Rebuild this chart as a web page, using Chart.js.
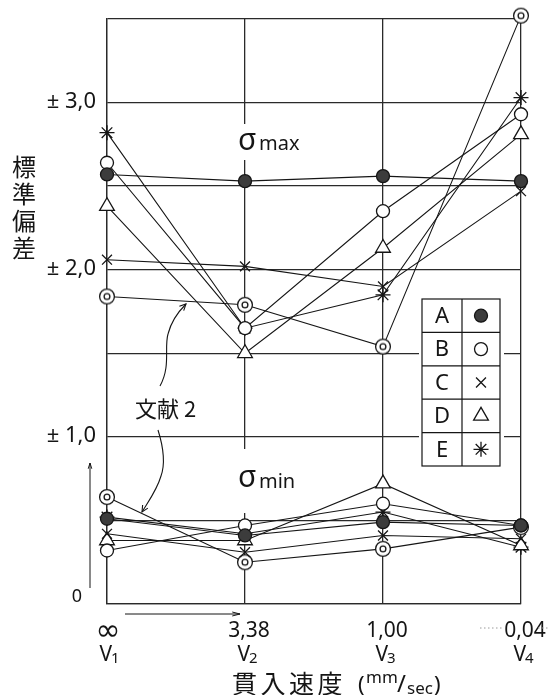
<!DOCTYPE html>
<html>
<head>
<meta charset="utf-8">
<script src="https://cdn.jsdelivr.net/npm/chart.js@4.4.1/dist/chart.umd.min.js"></script>
<style>
  html, body { margin: 0; padding: 0; background: #fff; }
  canvas { display: block; }
</style>
</head>
<body>
<canvas id="chart" width="548" height="695"></canvas>
<script>
// Penetration speed steps (x axis)
const categories = ['V₁', 'V₂', 'V₃', 'V₄'];
const speedLabels = ['∞', '3,38', '1,00', '0,04'];

// Standard deviation axis labels
const yTickValues = [0, 1, 2, 3];
const yTickLabels = ['0', '± 1,0', '± 2,0', '± 3,0'];

// Series names (table at right); the last series is literature ref. 2
const seriesNames = ['A', 'B', 'C', 'D', 'E'];
const refName = '文献 2';

// σmax values per series
const maxA = [2.57, 2.53, 2.56, 2.53];
const maxB = [2.64, 1.65, 2.35, 2.93];
const maxC = [2.06, 2.02, 1.90, 2.47];
const maxD = [2.38, 1.50, 2.13, 2.81];
const maxE = [2.82, 1.65, 1.85, 3.03];
const maxRef = [1.84, 1.79, 1.54, 3.52];

// σmin values per series
const minA = [0.51, 0.41, 0.49, 0.47];
const minB = [0.32, 0.47, 0.60, 0.47];
const minC = [0.42, 0.31, 0.41, 0.39];
const minD = [0.38, 0.38, 0.72, 0.35];
const minE = [0.52, 0.42, 0.55, 0.34];
const minRef = [0.64, 0.25, 0.33, 0.46];

const INK = '#151515';

function makeDoubleCircle() {
  const c = document.createElement('canvas');
  c.width = 18; c.height = 18;
  const g = c.getContext('2d');
  g.fillStyle = '#fff';
  g.strokeStyle = INK;
  g.lineWidth = 1.3;
  g.beginPath(); g.arc(9, 9, 7.4, 0, Math.PI * 2); g.fill(); g.stroke();
  g.beginPath(); g.arc(9, 9, 2.9, 0, Math.PI * 2); g.stroke();
  return c;
}
const doubleCircle = makeDoubleCircle();

// Marker appearance for A..E and ref. 2
const markerStyles = [
  { pointStyle: 'circle', radius: 6.5, bg: '#3c3c3c' },
  { pointStyle: 'circle', radius: 6.5, bg: '#ffffff' },
  { pointStyle: 'crossRot', radius: 7, bg: '#ffffff' },
  { pointStyle: 'triangle', radius: 8.5, bg: '#ffffff' },
  { pointStyle: 'star', radius: 7.5, bg: '#ffffff' },
  { pointStyle: doubleCircle, radius: 7, bg: '#ffffff' }
];

const maxSeries = [maxA, maxB, maxC, maxD, maxE, maxRef];
const minSeries = [minA, minB, minC, minD, minE, minRef];
const labels = seriesNames.concat([refName]);

function toPoints(values) {
  return values.map((v, i) => ({ x: i, y: v }));
}

const datasets = [];
[['σmax', maxSeries], ['σmin', minSeries]].forEach(([group, list]) => {
  list.forEach((values, k) => {
    const st = markerStyles[k];
    datasets.push({
      label: labels[k] + ' ' + group,
      data: toPoints(values),
      borderColor: INK,
      borderWidth: 1.1,
      pointStyle: st.pointStyle,
      pointRadius: st.radius,
      pointHoverRadius: st.radius,
      pointBackgroundColor: st.bg,
      pointBorderColor: INK,
      pointBorderWidth: 1.3,
      tension: 0,
      fill: false,
      clip: false
    });
  });
});

function drawMarker(ctx, st, x, y) {
  ctx.save();
  if (typeof st.pointStyle !== 'string') {
    ctx.drawImage(st.pointStyle, x - st.pointStyle.width / 2, y - st.pointStyle.height / 2);
  } else {
    ctx.fillStyle = st.bg;
    ctx.strokeStyle = INK;
    ctx.lineWidth = 1.3;
    Chart.helpers.drawPoint(ctx, { pointStyle: st.pointStyle, radius: st.radius, borderWidth: 1.3, rotation: 0 }, x, y);
  }
  ctx.restore();
}

function arrowHead(ctx, x, y, angle, len, spread) {
  ctx.beginPath();
  ctx.moveTo(x - len * Math.cos(angle - spread), y - len * Math.sin(angle - spread));
  ctx.lineTo(x, y);
  ctx.lineTo(x - len * Math.cos(angle + spread), y - len * Math.sin(angle + spread));
  ctx.stroke();
}

const sansFont = '"Noto Sans", "DejaVu Sans", sans-serif';
const cjkFont = '"Noto Sans CJK JP", "Noto Sans CJK SC", sans-serif';

const decorations = {
  id: 'decorations',
  beforeDatasetsDraw(chart) {
    const ctx = chart.ctx;
    const xs = chart.scales.x;
    ctx.save();

    // σmax / σmin captions on a white ground across the V2 grid line
    const x2 = xs.getPixelForValue(1);
    ctx.fillStyle = '#fff';
    ctx.fillRect(x2 - 8, 124, 70, 36);
    ctx.fillRect(x2 - 8, 449, 60, 64);
    ctx.fillStyle = INK;
    ctx.textBaseline = 'alphabetic';
    ctx.textAlign = 'left';
    ctx.font = '30px ' + sansFont;
    ctx.fillText('σ', x2 - 7, 150);
    ctx.font = '20px ' + sansFont;
    ctx.fillText('max', x2 + 14, 150);
    ctx.font = '30px ' + sansFont;
    ctx.fillText('σ', x2 - 7, 487);
    ctx.font = '20px ' + sansFont;
    ctx.fillText('min', x2 + 14, 488);

    // Symbol table
    const tl = 422, tr = 500, tm = 462, tt = 299, tb = 466;
    const rowH = (tb - tt) / seriesNames.length;
    ctx.fillStyle = '#fff';
    ctx.fillRect(tl - 3, tt - 2, tr - tl + 7, tb - tt + 4);
    ctx.strokeStyle = INK;
    ctx.lineWidth = 1.2;
    ctx.strokeRect(tl, tt, tr - tl, tb - tt);
    ctx.beginPath();
    ctx.moveTo(tm, tt); ctx.lineTo(tm, tb);
    for (let i = 1; i < seriesNames.length; i++) {
      ctx.moveTo(tl, tt + rowH * i); ctx.lineTo(tr, tt + rowH * i);
    }
    ctx.stroke();
    ctx.font = '22px ' + sansFont;
    ctx.textAlign = 'center';
    ctx.textBaseline = 'middle';
    seriesNames.forEach((name, i) => {
      const cy = tt + rowH * (i + 0.5);
      ctx.fillStyle = INK;
      ctx.fillText(name, (tl + tm) / 2, cy + 1);
      drawMarker(ctx, markerStyles[i], (tm + tr) / 2, cy);
    });
    ctx.restore();
  },
  afterDraw(chart) {
    const ctx = chart.ctx;
    const xs = chart.scales.x, ys = chart.scales.y;
    ctx.save();
    ctx.fillStyle = INK;
    ctx.strokeStyle = INK;

    // y tick labels
    ctx.textBaseline = 'middle';
    yTickValues.forEach((v, i) => {
      const py = ys.getPixelForValue(v);
      if (v === 0) {
        ctx.font = '18px ' + sansFont;
        ctx.textAlign = 'center';
        ctx.fillText(yTickLabels[i], 77, py - 7);
      } else {
        ctx.font = '22px ' + sansFont;
        ctx.textAlign = 'right';
        ctx.fillText(yTickLabels[i], 96, py - 1);
      }
    });

    // y axis title, stacked vertically
    ctx.font = '24px ' + cjkFont;
    ctx.textAlign = 'center';
    const yTitle = '標準偏差';
    for (let i = 0; i < yTitle.length; i++) {
      ctx.fillText(yTitle[i], 24, 167 + i * 27);
    }

    // x labels: speed value and step name
    const subDigits = '₀₁₂₃₄₅₆₇₈₉';
    categories.forEach((cat, i) => {
      const px = xs.getPixelForValue(i);
      ctx.textAlign = 'center';
      ctx.textBaseline = 'alphabetic';
      if (speedLabels[i] === '∞') {
        ctx.font = '30px ' + sansFont;
        ctx.fillText(speedLabels[i], px + 1, 640);
      } else {
        ctx.font = '21px ' + sansFont;
        ctx.fillText(speedLabels[i], px + 4, 637);
      }
      const head = cat.charAt(0);
      const sub = String(subDigits.indexOf(cat.charAt(1)));
      ctx.font = '21px ' + sansFont;
      const wHead = ctx.measureText(head).width;
      ctx.font = '15px ' + sansFont;
      const wSub = ctx.measureText(sub).width;
      const start = px + 3 - (wHead + wSub) / 2;
      ctx.textAlign = 'left';
      ctx.font = '21px ' + sansFont;
      ctx.fillText(head, start, 661);
      ctx.font = '15px ' + sansFont;
      ctx.fillText(sub, start + wHead - 1, 663);
    });

    // x axis title: 貫入速度 (mm/sec)
    ctx.textAlign = 'left';
    ctx.textBaseline = 'alphabetic';
    ctx.font = '25px ' + cjkFont;
    const xTitle = '貫入速度';
    for (let i = 0; i < xTitle.length; i++) {
      ctx.fillText(xTitle[i], 232 + i * 28.5, 693);
    }
    ctx.font = '22px ' + sansFont;
    ctx.fillText('(', 358, 692);
    ctx.fillText(')', 434, 692);
    ctx.font = '17px ' + sansFont;
    ctx.fillText('mm', 366, 683);
    ctx.font = '17px ' + sansFont;
    ctx.fillText('sec', 407, 694);
    ctx.font = '24px ' + sansFont;
    ctx.fillText('/', 397, 692);

    // reference caption with curved pointers
    ctx.font = '22px ' + cjkFont;
    ctx.textAlign = 'left';
    ctx.textBaseline = 'middle';
    ctx.fillText('文献 2', 135, 409);

    ctx.lineWidth = 1.1;
    ctx.beginPath();
    ctx.moveTo(160, 386);
    ctx.bezierCurveTo(171, 366, 164, 348, 168, 334);
    ctx.bezierCurveTo(171, 322, 178, 312, 186, 304);
    ctx.stroke();
    arrowHead(ctx, 186, 304, Math.atan2(304 - 312, 186 - 178), 7, 0.45);

    ctx.beginPath();
    ctx.moveTo(158, 430);
    ctx.bezierCurveTo(163, 446, 166, 462, 161, 476);
    ctx.bezierCurveTo(157, 490, 148, 502, 142, 512);
    ctx.stroke();
    arrowHead(ctx, 142, 512, Math.atan2(512 - 502, 142 - 148), 7, 0.45);

    // direction arrows beside the axes
    ctx.lineWidth = 1;
    ctx.beginPath();
    ctx.moveTo(90, 588); ctx.lineTo(90, 463);
    ctx.stroke();
    arrowHead(ctx, 90, 463, -Math.PI / 2, 6, 0.3);
    ctx.beginPath();
    ctx.moveTo(125, 614); ctx.lineTo(240, 614);
    ctx.stroke();
    arrowHead(ctx, 240, 614, 0, 8, 0.25);

    // faint dotted leaders around 0,04
    ctx.strokeStyle = '#9a9a9a';
    ctx.setLineDash([1.5, 2.5]);
    ctx.lineWidth = 1;
    ctx.beginPath();
    ctx.moveTo(480, 628); ctx.lineTo(503, 628);
    ctx.moveTo(538, 628); ctx.lineTo(548, 628);
    ctx.stroke();
    ctx.restore();
  }
};

new Chart(document.getElementById('chart'), {
  type: 'line',
  data: { datasets },
  options: {
    responsive: false,
    animation: false,
    devicePixelRatio: 1,
    events: [],
    layout: { autoPadding: false, padding: { left: 107, right: 27, top: 19, bottom: 91 } },
    plugins: { legend: { display: false }, tooltip: { enabled: false } },
    scales: {
      x: {
        type: 'linear', min: 0, max: categories.length - 1,
        ticks: { display: false, stepSize: 1 },
        grid: { color: '#2a2a2a', lineWidth: 1.3, drawTicks: false },
        border: { display: true, color: '#2a2a2a', width: 1.3 }
      },
      y: {
        min: 0, max: 3.5,
        ticks: { display: false, stepSize: 0.5 },
        grid: { color: '#2a2a2a', lineWidth: 1.3, drawTicks: false },
        border: { display: true, color: '#2a2a2a', width: 1.3 }
      }
    }
  },
  plugins: [decorations]
});
</script>
</body>
</html>
